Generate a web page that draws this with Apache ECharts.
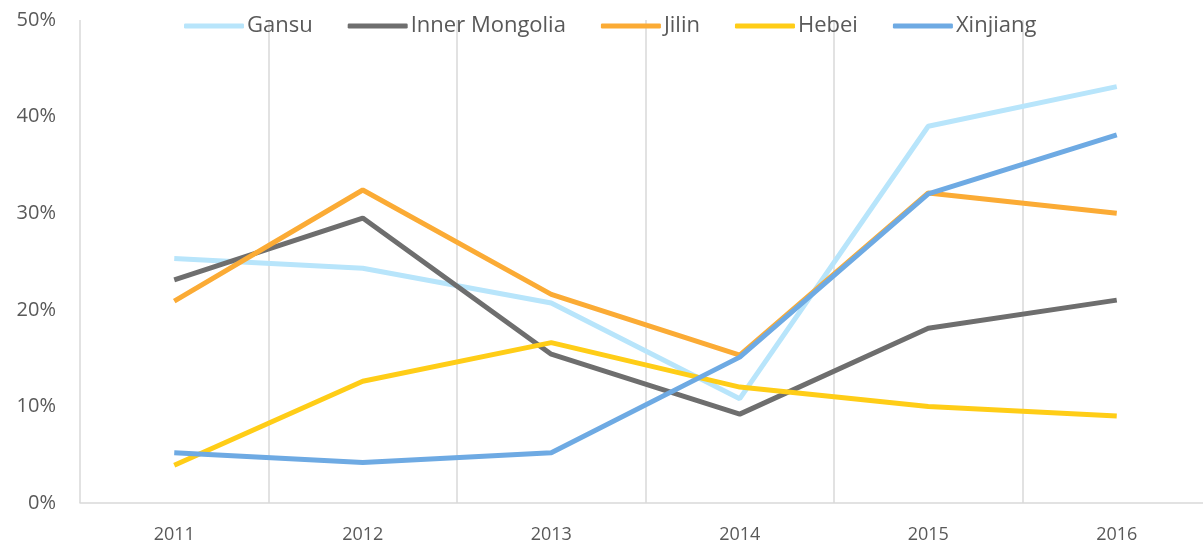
<!DOCTYPE html>
<html>
<head>
<meta charset="utf-8">
<script src="https://cdn.jsdelivr.net/npm/echarts@6/dist/echarts.min.js"></script>
<style>
  html, body { margin: 0; padding: 0; background: #fff; }
  #chart { width: 1203px; height: 548px; }
</style>
</head>
<body>
<div id="chart"></div>
<script>
// years on the x axis
const years = ['2011', '2012', '2013', '2014', '2015', '2016']

// share values in percent
const gansu = [25.3, 24.3, 20.7, 10.8, 39.0, 43.1]
const innerMongolia = [23.1, 29.5, 15.4, 9.2, 18.1, 21.0]
const jilin = [20.9, 32.4, 21.6, 15.3, 32.1, 30.0]
const hebei = [3.9, 12.6, 16.6, 12.0, 10.0, 9.0]
const xinjiang = [5.2, 4.2, 5.2, 15.1, 32.0, 38.1]

const seriesNames = ['Gansu', 'Inner Mongolia', 'Jilin', 'Hebei', 'Xinjiang']
const seriesData = [gansu, innerMongolia, jilin, hebei, xinjiang]
const colors = ['#b8e5fb', '#6e6e6e', '#fbab35', '#ffcd17', '#6eaae3']

const font = '"Open Sans", "Noto Sans", sans-serif'

const chart = echarts.init(document.getElementById('chart'))

const options = {
  animation: false,
  color: colors,
  textStyle: { fontFamily: font },
  legend: {
    top: 10,
    left: 179,
    itemWidth: 60,
    itemHeight: 5,
    itemGap: 35,
    icon: 'roundRect',
    textStyle: { color: '#595959', fontSize: 22, fontFamily: font, padding: [0, 0, 0, -2] },
    data: seriesNames
  },
  grid: {
    left: 80,
    top: 20,
    right: -8,
    bottom: 45,
    outerBoundsMode: 'none'
  },
  xAxis: {
    type: 'category',
    data: years,
    boundaryGap: true,
    axisLine: { lineStyle: { color: '#d9d9d9', width: 1.5 } },
    axisTick: { show: false },
    axisLabel: { color: '#595959', fontSize: 18, margin: 23, fontFamily: font },
    splitLine: { show: true, lineStyle: { color: '#d9d9d9', width: 1.5 } }
  },
  yAxis: {
    type: 'value',
    min: 0,
    max: 50,
    interval: 10,
    axisLine: { show: false },
    axisTick: { show: false },
    splitLine: { show: false },
    axisLabel: {
      color: '#595959',
      fontSize: 20,
      margin: 24,
      fontFamily: font,
      formatter: '{value}%'
    }
  },
  series: seriesNames.map(function (name, i) {
    return {
      name: name,
      type: 'line',
      data: seriesData[i],
      symbol: 'none',
      lineStyle: { width: 5, color: colors[i] },
      itemStyle: { color: colors[i] }
    }
  })
}

chart.setOption(options)
</script>
</body>
</html>
